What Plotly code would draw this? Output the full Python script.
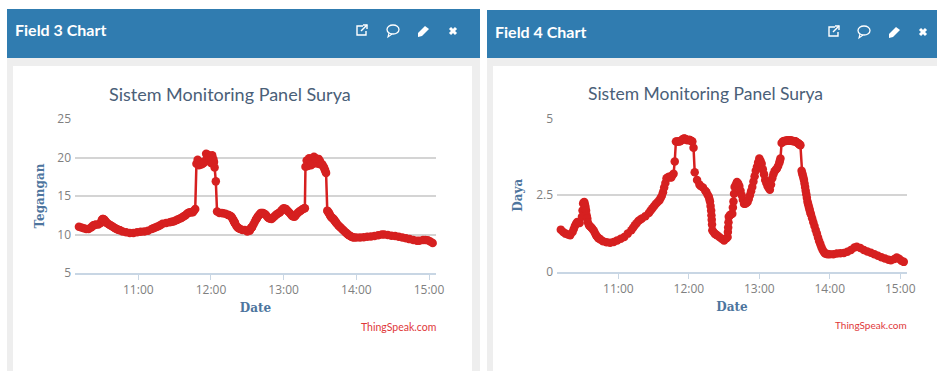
import plotly.graph_objects as go

times = ["10:11","10:13","10:15","10:17","10:19","10:21","10:23","10:25","10:27","10:29","10:30","10:31","10:32","10:33","10:35","10:37","10:39","10:41","10:44","10:47","10:50","10:53","10:56","10:59","11:02","11:05","11:08","11:11","11:14","11:17","11:20","11:23","11:26","11:29","11:32","11:35","11:37","11:39","11:41","11:43","11:45","11:47",
"11:48","11:49","11:50","11:52","11:54","11:55","11:56","11:57","11:58","11:59","12:00","12:01","12:02","12:03","12:04","12:05","12:07","12:09","12:12","12:15","12:17","12:18","12:19","12:20","12:22","12:24","12:26","12:28","12:30","12:32","12:33","12:34","12:35","12:37","12:39","12:41","12:43","12:45","12:47","12:50","12:52","12:54","12:57","13:00","13:02","13:05","13:07","13:09","13:11","13:13","13:15","13:17",
"13:18","13:19","13:20","13:21","13:23","13:25","13:27","13:29","13:31","13:33","13:34","13:35","13:36","13:38","13:39","13:41","13:43","13:45","13:47","13:49","13:51","13:53","13:55","13:56","13:58","14:00","14:03","14:06","14:09","14:12","14:15","14:18","14:21","14:23","14:26","14:29","14:32","14:35","14:38","14:41","14:44","14:47","14:50","14:52","14:55","14:57","14:59","15:01","15:03"]

tegangan = [11.0,10.9,10.8,10.7,10.7,10.9,11.2,11.3,11.3,11.5,11.9,12.0,11.9,11.7,11.4,11.2,11.0,10.8,10.6,10.4,10.3,10.2,10.2,10.3,10.35,10.4,10.5,10.7,10.9,11.1,11.4,11.5,11.6,11.7,11.9,12.1,12.3,12.5,12.8,12.9,12.9,13.3,
19.2,19.7,19.0,19.1,19.3,19.5,20.5,20.4,20.3,19.6,19.3,20.3,19.8,18.7,16.9,13.0,12.8,12.8,12.7,12.5,12.3,12.0,11.7,11.4,10.9,10.7,10.6,10.6,10.4,10.5,10.8,11.0,11.3,11.9,12.4,12.8,12.8,12.6,12.2,12.0,12.3,12.6,12.9,13.4,13.3,12.8,12.4,12.3,12.7,13.0,13.2,13.4,
18.8,19.6,18.9,19.9,19.4,20.1,19.7,19.8,19.2,18.8,18.4,18.0,13.1,12.6,12.3,12.0,11.6,11.2,10.9,10.6,10.3,10.0,9.8,9.7,9.6,9.6,9.6,9.65,9.7,9.75,9.8,9.9,10.0,10.0,9.95,9.85,9.8,9.7,9.6,9.5,9.4,9.3,9.2,9.2,9.3,9.3,9.25,9.1,8.9]

daya = [1.38,1.30,1.25,1.22,1.20,1.30,1.50,1.63,1.60,1.80,2.23,2.28,2.12,1.85,1.52,1.45,1.35,1.20,1.08,1.00,0.97,0.95,0.98,1.03,1.08,1.14,1.25,1.36,1.52,1.66,1.74,1.82,1.92,2.08,2.22,2.34,2.48,2.75,3.05,3.10,3.08,3.20,
3.60,4.25,4.25,4.25,4.30,4.33,4.35,4.33,4.30,4.30,4.30,4.30,4.27,4.25,4.05,3.25,3.00,2.85,2.75,2.60,2.45,2.30,2.00,1.36,1.25,1.20,1.14,1.08,1.03,1.10,1.14,1.80,1.85,1.90,2.77,2.93,2.80,2.50,2.22,2.28,2.50,2.77,3.30,3.70,3.53,3.00,2.80,2.68,3.05,3.28,3.37,3.55,
3.70,4.20,4.25,4.27,4.28,4.29,4.28,4.27,4.25,4.20,4.16,4.13,3.30,3.00,2.77,2.30,2.00,1.75,1.50,1.25,1.00,0.80,0.65,0.60,0.58,0.58,0.58,0.60,0.61,0.62,0.66,0.72,0.80,0.82,0.78,0.72,0.67,0.63,0.58,0.53,0.48,0.44,0.40,0.38,0.42,0.47,0.43,0.37,0.33]

# further readings between the ones above, where the trace is steep
times_b = ["10:22","10:24","10:29:30","10:30:30","10:31:30","10:32:30","10:33:30","10:34","10:36","10:38","10:40","10:42","10:43","10:45","11:12:30","11:15:30","11:18:30","11:27:30","11:30:30","11:33:30","11:36","11:38","11:40","11:42","11:44","11:46",
"12:10","12:14","12:16","12:17:30","12:18:30","12:19:30","12:21","12:23","12:33:30","12:36","12:38","12:40","12:42","12:44","12:46","12:48","12:49","12:51","12:53","12:55","12:56","12:58","12:59","13:01","13:03","13:04","13:06","13:08","13:10","13:12","13:14","13:16","13:17:30",
"13:37","13:40","13:42","13:44","13:46","13:48","13:50","13:52","13:54","13:57",
"13:22","13:24","13:26","13:28","13:30","13:32","13:33:30","13:34:30","13:22:30","13:24:30","13:26:30","13:28:30","13:30:30",
"11:51","11:53","11:56:30","11:58:30","12:00:30","12:02:30",
"12:19:15","12:19:45","12:33:15","12:33:45","12:37:30","12:38:30",
"13:36:30","13:37:30","13:38:30","13:39:30","13:40:30","13:41:30","13:42:30","13:43:30"]
tegangan_b = [11.05,11.25,11.7,12.0,11.95,11.8,11.6,11.5,11.3,11.1,10.9,10.7,10.65,10.55,10.8,11.0,11.25,11.65,11.8,12.0,12.2,12.4,12.65,12.85,12.9,13.1,
12.75,12.55,12.4,12.15,11.85,11.55,11.1,10.8,10.9,11.6,12.15,12.6,12.8,12.7,12.4,12.1,12.05,12.15,12.45,12.7,12.8,13.1,13.25,13.35,13.1,12.95,12.6,12.35,12.5,12.85,13.1,13.3,13.4,
12.85,12.15,11.8,11.4,11.05,10.75,10.45,10.15,9.9,9.65,
19.7,19.9,19.95,19.7,19.5,19.1,18.6,18.2,19.0,19.2,19.3,19.2,19.1,
19.4,19.2,19.9,20.0,19.8,19.4,
11.65,11.5,10.85,10.95,12.0,12.3,
12.98,12.75,12.45,12.25,12.1,11.95,11.75,11.5]
daya_b = [1.4,1.57,2.0,2.26,2.2,2.0,1.75,1.62,1.48,1.4,1.28,1.15,1.1,1.05,1.44,1.59,1.7,2.0,2.15,2.28,2.41,2.6,2.9,3.08,3.09,3.15,
2.8,2.65,2.52,2.38,2.15,1.7,1.3,1.22,1.45,1.88,2.3,2.85,2.88,2.65,2.35,2.22,2.25,2.38,2.63,2.95,3.12,3.43,3.57,3.62,3.35,3.18,2.9,2.74,2.85,3.18,3.33,3.45,3.62,
3.15,2.53,2.15,1.87,1.62,1.37,1.12,0.9,0.72,0.6,
4.27,4.28,4.28,4.27,4.26,4.22,4.18,4.15,4.27,4.28,4.28,4.27,4.26,
4.25,4.27,4.34,4.30,4.30,4.26,
1.85,1.55,1.30,1.62,2.10,2.55,
3.22,3.08,2.88,2.65,2.42,2.22,2.08,1.93]

assert len(times) == len(tegangan) == len(daya)
assert len(times_b) == len(tegangan_b) == len(daya_b)
rows = sorted(zip(times + times_b, tegangan + tegangan_b, daya + daya_b))
all_times = [r[0] for r in rows]
dates = ["2021-06-01 " + t for t in all_times]
series_tegangan = [r[1] for r in rows]
series_daya = [r[2] for r in rows]

panel_titles = ["Field 3 Chart", "Field 4 Chart"]
chart_title = "Sistem Monitoring Panel Surya"
credit = "ThingSpeak.com"

W, H = 937, 371
BLUE = "#307CB0"; GRAY = "#EEEEEE"; RED = "#D62020"; TITLE = "#4A6078"; AXT = "#4D759E"; TICK = "#808080"
FONT = "Open Sans"
X = lambda p: p / W
Y = lambda p: 1 - p / H

fig = go.Figure()
charts = [
    dict(vals=series_tegangan, x="x", y="y", dom=(75, 436), yr=[5, 25], yt=[5, 10, 15, 20, 25], yl=["5","10","15","20","25"], name="Tegangan", top=119, bot=273),
    dict(vals=series_daya, x="x2", y="y2", dom=(557, 907), yr=[0, 5], yt=[0, 2.5, 5], yl=["0","2.5","5"], name="Daya", top=118.5, bot=272),
]
for c in charts:
    fig.add_trace(go.Scatter(x=dates, y=c["vals"], xaxis=c["x"], yaxis=c["y"], mode="lines+markers",
                             line=dict(color=RED, width=2.5), marker=dict(color=RED, size=8.5), showlegend=False, cliponaxis=False))
xrange = ["2021-06-01 10:07:45", "2021-06-01 15:05:45"]
tickv = ["2021-06-01 %d:00" % h for h in range(11, 16)]
tickt = ["%d:00" % h for h in range(11, 16)]
def xa(c):
    return dict(domain=[X(c["dom"][0]), X(c["dom"][1])], range=xrange, tickvals=tickv, ticktext=tickt, showgrid=False,
                showline=True, linecolor="#C8D6E4", linewidth=1.5, ticks="outside", ticklen=5, tickcolor="#C8D6E4",
                tickfont=dict(family=FONT, size=12, color=TICK), zeroline=False, automargin=False,
                title=dict(text="Date", font=dict(family="DejaVu Serif", size=12, color=AXT, weight="bold"), standoff=6))
def ya(c):
    return dict(domain=[Y(c["bot"]), Y(c["top"])], range=c["yr"], tickvals=c["yt"], ticktext=c["yl"], showgrid=True, gridcolor="#D4D4D4", gridwidth=1.5,
                showline=False, zeroline=False, ticks="", ticklabelstandoff=3, automargin=False,
                tickfont=dict(family=FONT, size=12, color=TICK),
                title=dict(text=c["name"], font=dict(family="DejaVu Serif", size=12, color=AXT, weight="bold"), standoff=10))
ax = {}
for i, c in enumerate(charts):
    s = "" if i == 0 else "2"
    ax["xaxis" + s] = xa(c); ax["yaxis" + s] = ya(c)
    ax["xaxis" + s]["anchor"] = "y" + s
    ax["yaxis" + s]["anchor"] = "x" + s

def rect(x0, y0, x1, y1, col):
    return dict(type="rect", xref="paper", yref="paper", x0=X(x0), x1=X(x1), y0=Y(y0), y1=Y(y1), fillcolor=col, line_width=0, layer="below")
shapes = [
    rect(7, 9, 480, H, GRAY), rect(7, 9, 480, 58, BLUE), rect(13, 66, 472, H, "white"),
    rect(487, 10, 937, H, GRAY), rect(487, 10, 937, 58, BLUE), rect(493, 66, 937, H, "white"),
]
def path(d, fill=None, stroke=None, w=1.4):
    return dict(type="path", xref="paper", yref="paper", path=d, fillcolor=fill or "rgba(0,0,0,0)",
                line=dict(color=stroke or "rgba(0,0,0,0)", width=w))
def pd(pts, close=False):
    return "M" + " L".join("%.5f,%.5f" % (X(a), Y(b)) for a, b in pts) + (" Z" if close else "")
for ox, top in ((362, 30), (834, 31)):
    shapes.append(path(pd([(ox+1,top-4),(ox-5,top-4),(ox-5,top+5),(ox+4,top+5),(ox+4,top+1)]), stroke="white"))
    shapes.append(path(pd([(ox-1,top+1),(ox+5,top-5)]), stroke="white"))
    shapes.append(path(pd([(ox+1,top-5),(ox+5,top-5),(ox+5,top-1)]), stroke="white"))
for ox, top in ((393, 30), (864, 31)):
    shapes.append(dict(type="circle", xref="paper", yref="paper", x0=X(ox-6), x1=X(ox+6), y0=Y(top+4), y1=Y(top-5), line=dict(color="white", width=1.3)))
    shapes.append(path(pd([(ox-4,top+3),(ox-5,top+7),(ox-1,top+4)]), stroke="white", w=1.1))
for ox, top in ((423, 31), (894, 32)):
    shapes.append(path(pd([(ox-5,top+6),(ox-5,top+2),(ox+2,top-5),(ox+6,top-2),(ox-1,top+5)], True), fill="white"))
for ox, top in ((453, 31), (923, 32)):
    shapes.append(path(pd([(ox-3,top-3),(ox+3,top+3)]), stroke="white", w=3))
    shapes.append(path(pd([(ox+3,top-3),(ox-3,top+3)]), stroke="white", w=3))

def ann(x, y, t, size, col, fam=FONT, anchor="center", weight=None):
    return dict(x=X(x), y=Y(y), xref="paper", yref="paper", text=t, showarrow=False, xanchor=anchor, yanchor="middle",
                borderpad=0, font=dict(family=fam, size=size, color=col, weight=weight))
annotations = [
    ann(14, 30, panel_titles[0], 16, "white", fam="Lato", anchor="left", weight="bold"),
    ann(494, 31, panel_titles[1], 16, "white", fam="Lato", anchor="left", weight="bold"),
    ann(230, 94, chart_title, 18, TITLE, fam="Lato"),
    ann(705, 94, chart_title, 17.5, TITLE, fam="Lato"),
    ann(437, 327, credit, 10.5, "#E0383A", fam="Lato", anchor="right"),
    ann(908, 325, credit, 10, "#E0383A", fam="Lato", anchor="right"),
]
fig.update_layout(width=W, height=H, margin=dict(l=0, r=0, t=0, b=0), paper_bgcolor="white", plot_bgcolor="white",
                  shapes=shapes, annotations=annotations, **ax)
fig.write_html("out.html", config=dict(displayModeBar=False),
               post_script="document.body.style.margin='0';document.body.style.overflow='hidden';")
